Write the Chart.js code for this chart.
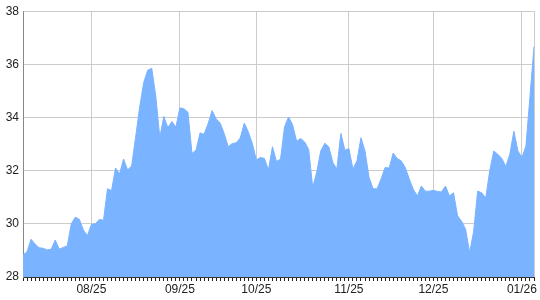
<!DOCTYPE html>
<html>
<head>
<meta charset="utf-8">
<script src="https://cdn.jsdelivr.net/npm/chart.js@4/dist/chart.umd.min.js"></script>
<style>
  html, body { margin: 0; padding: 0; background: #fff; }
  #wrap { width: 540px; height: 300px; }
</style>
</head>
<body>
<div id="wrap"><canvas id="c" width="540" height="300"></canvas></div>
<script>
const values = [
  28.83, 28.95, 29.42, 29.24, 29.10, 29.08, 29.02, 29.04, 29.39, 29.05,
  29.11, 29.17, 30.00, 30.25, 30.17, 29.77, 29.55, 29.98, 30.00, 30.17,
  30.13, 31.32, 31.25, 32.10, 31.88, 32.44, 32.03, 32.18, 33.27, 34.39,
  35.32, 35.78, 35.85, 34.80, 33.25, 34.04, 33.62, 33.85, 33.64, 34.36,
  34.33, 34.20, 32.65, 32.77, 33.42, 33.37, 33.77, 34.26, 33.95, 33.79,
  33.40, 32.90, 33.02, 33.05, 33.23, 33.79, 33.46, 33.02, 32.40, 32.50,
  32.46, 32.03, 32.90, 32.35, 32.43, 33.65, 34.02, 33.73, 33.11, 33.21,
  33.08, 32.80, 31.38, 31.94, 32.74, 33.03, 32.90, 32.31, 32.06, 33.40,
  32.77, 32.83, 32.06, 32.37, 33.24, 32.74, 31.75, 31.32, 31.32, 31.69,
  32.12, 32.10, 32.66, 32.46, 32.37, 32.12, 31.69, 31.30, 31.05, 31.42,
  31.23, 31.23, 31.26, 31.22, 31.20, 31.42, 31.05, 31.17, 30.30, 30.10,
  29.80, 28.92, 29.71, 31.23, 31.17, 30.97, 32.00, 32.74, 32.62, 32.46,
  32.16, 32.62, 33.49, 32.74, 32.50, 32.93, 34.79, 36.67
];
const monthLabels = ['08/25', '09/25', '10/25', '11/25', '12/25', '01/26'];
const monthStartIndex = [17, 39, 58, 81, 102, 124];
const yMin = 28, yMax = 38, yStep = 2;

const categories = values.map((v, i) => {
  const k = monthStartIndex.indexOf(i);
  return k >= 0 ? monthLabels[k] : '';
});
const lastIndex = values.length - 1;

new Chart(document.getElementById('c'), {
  type: 'line',
  data: {
    labels: categories,
    datasets: [{
      data: values,
      fill: 'start',
      backgroundColor: 'rgb(122,179,255)',
      borderColor: 'rgb(122,179,255)',
      borderWidth: 1,
      pointRadius: 0,
      tension: 0
    }]
  },
  options: {
    responsive: false,
    animation: false,
    events: [],
    layout: { padding: { top: 8, right: 6, left: 0, bottom: 0 } },
    plugins: { legend: { display: false }, tooltip: { enabled: false } },
    scales: {
      x: {
        type: 'category',
        offset: false,
        afterFit: s => { s.height = 23; },
        border: { display: true, color: '#333', width: 1 },
        grid: {
          display: true,
          drawOnChartArea: true,
          drawTicks: true,
          tickLength: 4,
          lineWidth: 1,
          color: ctx => {
            const i = ctx.index;
            if (categories[i] || i === lastIndex) return '#cccccc';
            return 'rgba(0,0,0,0)';
          },
          tickColor: '#222'
        },
        ticks: {
          autoSkip: false,
          maxRotation: 0,
          minRotation: 0,
          padding: 1,
          color: '#222',
          font: { family: '"Liberation Sans", Arial, sans-serif', size: 12 }
        }
      },
      y: {
        min: yMin,
        max: yMax,
        afterFit: s => { s.width = 23; },
        border: { display: true, color: '#888', width: 1 },
        grid: { color: '#cccccc', lineWidth: 1, drawTicks: false },
        ticks: {
          stepSize: yStep,
          padding: 4,
          color: '#222',
          font: { family: '"Liberation Sans", Arial, sans-serif', size: 12 }
        }
      }
    }
  }
});
</script>
</body>
</html>
